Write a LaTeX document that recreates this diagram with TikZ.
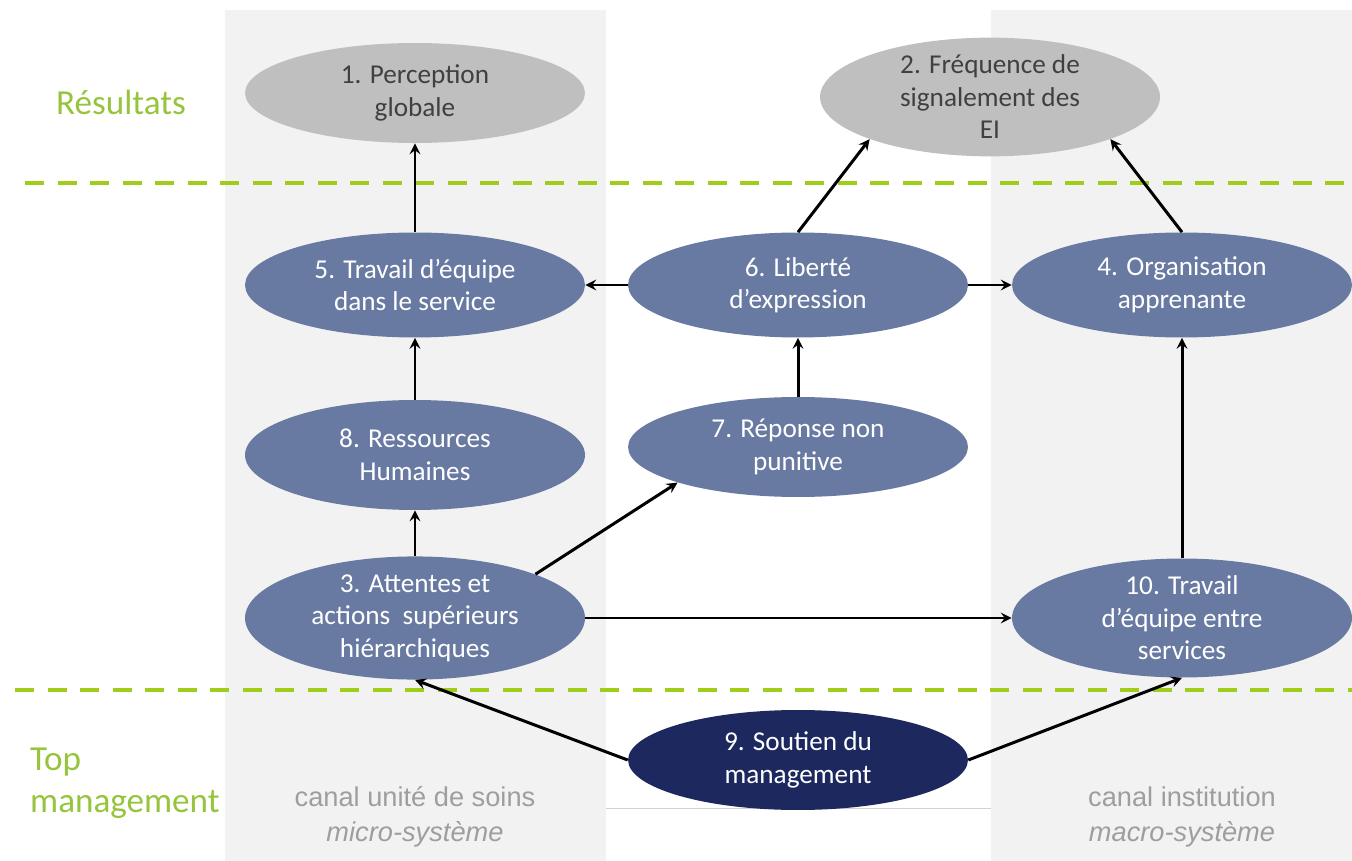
\documentclass[tikz,border=0pt]{standalone}
\usepackage{fontspec}
\setmainfont{Carlito}
\newfontfamily\canalfont{Liberation Sans}
\usepackage{tikz}
\usetikzlibrary{shapes.geometric}

\definecolor{resgreen}{RGB}{150,196,60}
\definecolor{dashgreen}{RGB}{160,205,25}
\definecolor{bluefill}{RGB}{104,122,162}
\definecolor{navyfill}{RGB}{28,40,94}
\definecolor{grayfill}{RGB}{191,191,191}
\definecolor{colgray}{RGB}{242,242,242}
\definecolor{canalgray}{RGB}{158,158,158}

\tikzset{
  factor/.style={ellipse, fill=bluefill, text=white, minimum width=6.8cm,
    minimum height=2cm, inner sep=0pt, align=center,
    font=\fontsize{15.5}{18.5}\selectfont},
  result/.style={factor, fill=grayfill, text=black!75},
  topfactor/.style={factor, fill=navyfill},
  level/.style={text=resgreen, font=\fontsize{20}{24}\selectfont, align=left},
  canal/.style={text=canalgray, font=\canalfont\fontsize{15.5}{20}\selectfont, align=center},
  sep/.style={dashgreen, line width=2.3pt, dash pattern=on 11pt off 7.5pt},
  link/.style={->, line width=1.7pt}
}

\begin{document}
\begin{tikzpicture}[>=stealth, x=0.02cm, y=-0.02cm]
    \useasboundingbox (0,0) rectangle (1352,861);

    % Draw the two channels
    \fill[colgray] (225,10) rectangle (606,861);
    \fill[colgray] (991,10) rectangle (1352,861);
    \draw[gray!35] (606,808) -- (991,808);

    % Draw level separators
    \draw[sep] (25,183) -- (1352,183);
    \draw[sep] (15,690) -- (1352,690);

    % Draw level and channel labels
    \node[level] (resultats) at (121,102) {Résultats};
    \node[level, anchor=west] (topmgmt) at (24,783) {Top\\management};
    \node[canal] (micro) at (415,817) {canal unité de soins\\\textit{micro-système}};
    \node[canal] (macro) at (1182,817) {canal institution\\\textit{macro-système}};

    % Draw results
    \node[result] (perception) at (415,93) {1. Perception\\globale};
    \node[result, minimum height=2.1cm] (frequence) at (990,97) {2. Fréquence de\\signalement des\\EI};

    % Draw dimensions
    \node[factor, minimum height=2.1cm] (equipe) at (415,285) {5. Travail d’équipe\\dans le service};
    \node[factor, minimum height=2.1cm] (liberte) at (798,285) {6. Liberté\\d’expression};
    \node[factor, minimum height=2.1cm] (organisation) at (1182,285) {4. Organisation\\apprenante};
    \node[factor, minimum height=2.2cm] (ressources) at (415,455) {8. Ressources\\Humaines};
    \node[factor] (reponse) at (798,447) {7. Réponse non\\punitive};
    \node[factor, minimum height=2.4cm] (attentes) at (415,618) {3. Attentes et\\actions\ \ supérieurs\\hiérarchiques};
    \node[factor, minimum height=2.3cm] (entre) at (1182,618) {10. Travail\\d’équipe entre\\services};
    \node[topfactor] (soutien) at (798,760) {9. Soutien du\\management};

    % Draw links
    \draw[link] (equipe) -- (perception);
    \draw[link] (liberte.north) -- (frequence.south west);
    \draw[link] (organisation.north) -- (frequence.south east);
    \draw[link] (liberte) -- (equipe);
    \draw[link] (liberte) -- (organisation);
    \draw[link] (reponse) -- (liberte);
    \draw[link] (ressources) -- (equipe);
    \draw[link] (attentes) -- (ressources);
    \draw[link] (attentes.north east) -- (reponse.south west);
    \draw[link] (attentes) -- (entre);
    \draw[link] (entre) -- (organisation);
    \draw[link] (soutien.west) -- (attentes.south);
    \draw[link] (soutien.east) -- (entre.south);
\end{tikzpicture}
\end{document}
